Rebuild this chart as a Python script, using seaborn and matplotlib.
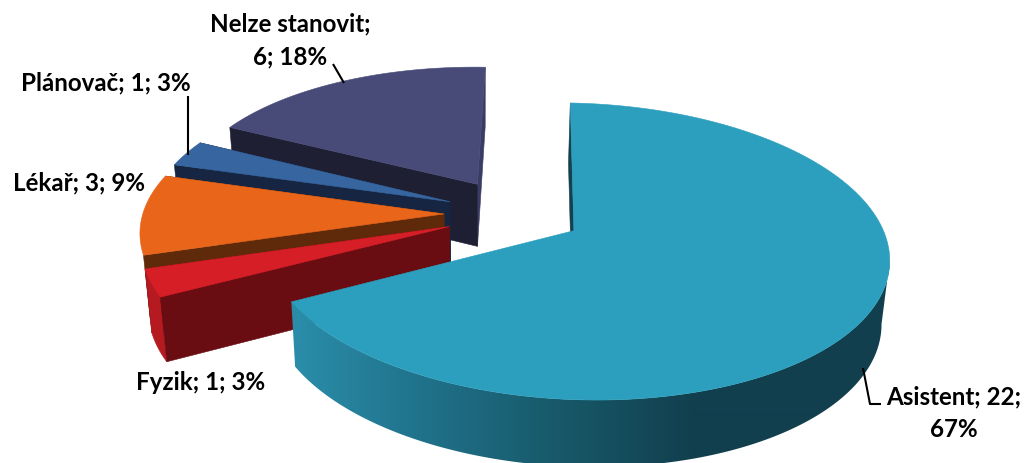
import numpy as np
import seaborn as sns
import matplotlib
matplotlib.use("Agg")
import matplotlib.pyplot as plt
from matplotlib.patches import Polygon

# Chart data
names = ["Asistent", "Fyzik", "Lékař", "Plánovač", "Nelze stanovit"]
counts = [22, 1, 3, 1, 6]

# Surface colours per slice
top_colors = ["#2B9FBD", "#D61E27", "#E8651A", "#37659F", "#484B78"]
front_colors = ["#134150", "#6A0D12", "#5E2A0A", "#162642", "#1E1F33"]
back_colors = ["#134150", "#6A0D12", "#5E2A0A", "#162642", "#3A3C66"]
arc_colors = [None, "#B51A20", None, None, None]

# Label placement: text centres in pixels, leader polylines
label_pos = [(954, 413.5), (201, 383), (79, 183), (106, 83), (290, 40.5)]
leaders = [
    [(863, 368), (870, 404), (881, 404)],
    None,
    None,
    [(188, 96), (188, 155)],
    [(333, 64), (344, 83)],
]

# Projective camera for the pie plane and explosion of every slice
camera = [297.80116, 74.68234, 516.38332, 4.33245, -111.41128, 213.88816, -0.01017, 0.13722]
explode = [0.21711, 0.23914, 0.23918, 0.23578, 0.24978]

sns.set_theme(style="white")
plt.rcParams["font.family"] = ["Lato", "DejaVu Sans"]

wall_cmap = sns.blend_palette(["#2A8CA8", "#1F7088", "#175868", "#123F4E"], as_cmap=True)

total = sum(counts)
edges = np.concatenate([[0], np.cumsum(counts)]) * 360.0 / total
mids = (edges[:-1] + edges[1:]) / 2


def disk(deg, r=1.0):
    t = np.radians(deg)
    return np.stack([r * np.sin(t), r * np.cos(t)], axis=-1)


def project(q):
    q = np.atleast_2d(q)
    p = camera
    w = p[6] * q[:, 0] + p[7] * q[:, 1] + 1
    return np.stack([(p[0] * q[:, 0] + p[1] * q[:, 1] + p[2]) / w,
                     (p[3] * q[:, 0] + p[4] * q[:, 1] + p[5]) / w], axis=1)


def lower(xy):
    # Underside of the pie: same outline, slightly converging towards the bottom
    xy = np.atleast_2d(xy)
    return np.stack([xy[:, 0] - 0.02 * (xy[:, 0] - 480), 1.023 * xy[:, 1] + 57.8], axis=1)


def band(rim):
    return np.vstack([rim, lower(rim)[::-1]])


fig = plt.figure(figsize=(10.25, 4.63), dpi=100)
ax = fig.add_axes([0, 0, 1, 1])

# Painted back to front, so the large slice ends up on top of the thin ones
for order, i in enumerate([4, 3, 2, 1, 0]):
    z = 10 * (order + 1)
    off = disk(mids[i], explode[i])
    apex = project(off)
    angles = np.linspace(edges[i], edges[i + 1], max(int(edges[i + 1] - edges[i]) * 2, 12))
    rim = project(off + disk(angles))

    def cut_face(end, color, zorder):
        ax.add_patch(Polygon(band(np.vstack([apex, end])), closed=True, facecolor=color,
                             edgecolor=color, lw=0.4, zorder=zorder))

    if i == 0:
        # Big slice: wall shaded by a horizontal gradient, clipped to its outline
        cut_face(rim[0], front_colors[i], z - 1)
        front = rim[np.argmax(rim[:, 0]):]
        outline = Polygon(band(front), closed=True, transform=ax.transData,
                          facecolor="none", edgecolor="none")
        ax.add_patch(outline)
        xs = np.arange(270, 910)
        shade = np.clip((xs - 300) / 395, 0, 1).reshape(1, -1)
        img = ax.imshow(shade, cmap=wall_cmap, vmin=0, vmax=1, aspect="auto",
                        extent=(270, 910, 470, 200), zorder=z + 1, interpolation="bilinear")
        img.set_clip_path(outline)
    else:
        cut_face(rim[-1], back_colors[i], z)
        if arc_colors[i]:
            ax.add_patch(Polygon(band(rim), closed=True, facecolor=arc_colors[i],
                                 edgecolor=arc_colors[i], lw=0.4, zorder=z + 1))
        cut_face(rim[0], front_colors[i], z + 2)

    # Upper surface
    ax.add_patch(Polygon(np.vstack([apex, rim]), closed=True, facecolor=top_colors[i],
                         edgecolor=top_colors[i], lw=0.4, zorder=z + 3))

ax.set_xlim(0, 1025)
ax.set_ylim(463, 0)
ax.axis("off")

# Data labels and their leader lines
for i, name in enumerate(names):
    pct = round(100 * counts[i] / total)
    if name == "Nelze stanovit":
        text = f"{name};\n{counts[i]}; {pct}%"
    elif name == "Asistent":
        text = f"{name}; {counts[i]};\n{pct}%"
    else:
        text = f"{name}; {counts[i]}; {pct}%"
    ax.text(*label_pos[i], text, ha="center", va="center", fontsize=17.4, fontweight="bold",
            color="black", linespacing=1.5, zorder=100)
    if leaders[i]:
        xs, ys = zip(*leaders[i])
        ax.plot(xs, ys, color="black", lw=1.5, zorder=99, solid_capstyle="butt")

fig.savefig("out.png", dpi=100)
